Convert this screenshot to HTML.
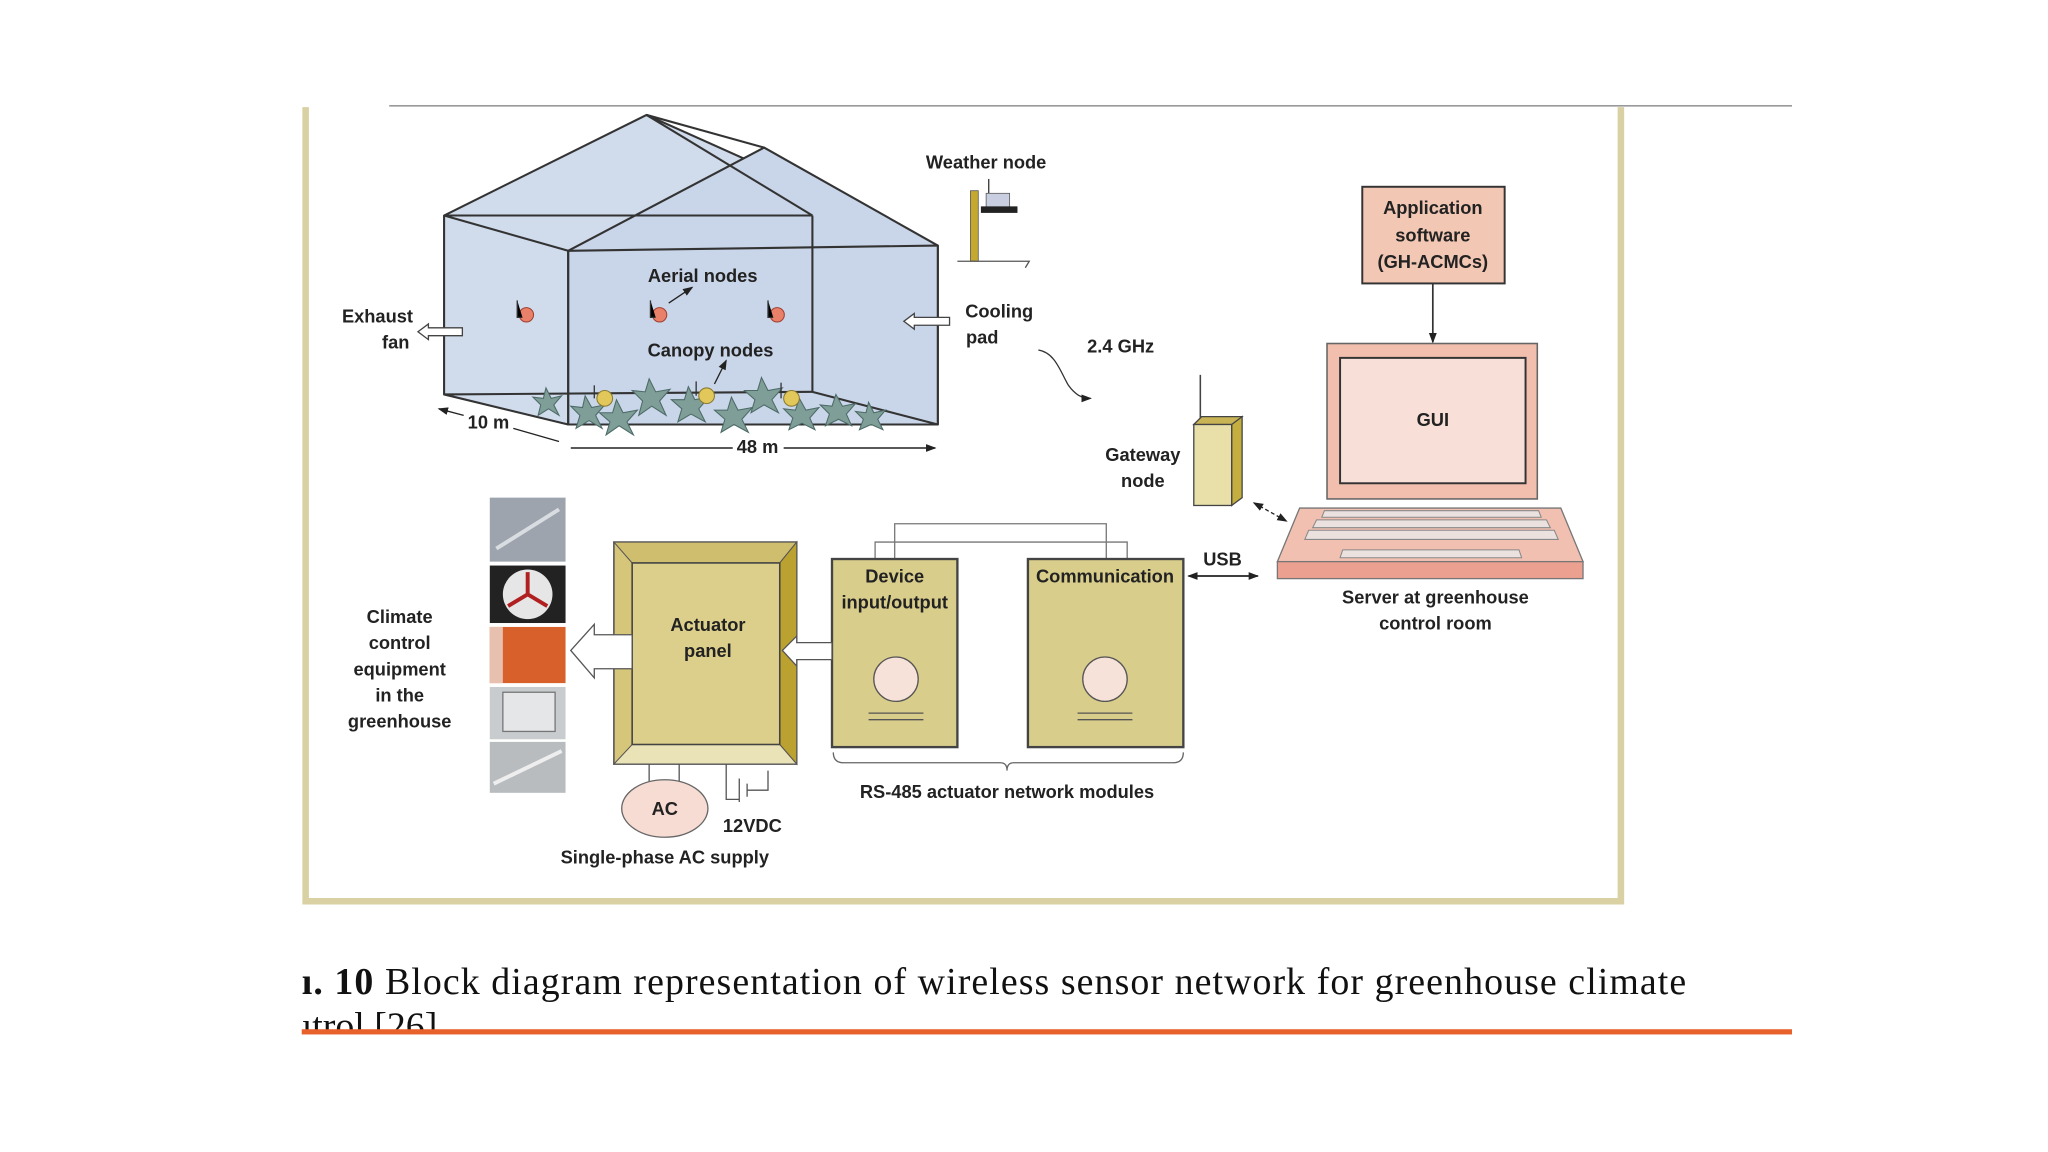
<!DOCTYPE html>
<html><head><meta charset="utf-8"><style>
html,body{margin:0;padding:0;background:#fff;}
svg{display:block;}
.t{font-family:"Liberation Sans",sans-serif;font-weight:bold;font-size:14px;fill:#222;text-anchor:middle;}
</style></head><body>
<svg width="2048" height="1152" viewBox="0 0 1568 882" xmlns="http://www.w3.org/2000/svg">
<defs>
<marker id="ah" markerWidth="8" markerHeight="8" refX="7" refY="4" orient="auto" markerUnits="userSpaceOnUse"><path d="M0,1 L8,4 L0,7 z" fill="#222"/></marker>
<marker id="as" markerWidth="8" markerHeight="8" refX="1" refY="4" orient="auto" markerUnits="userSpaceOnUse"><path d="M8,1 L0,4 L8,7 z" fill="#222"/></marker>
</defs>
<rect width="1568" height="882" fill="#fff"/>
<line x1="298" y1="81" x2="1372" y2="81" stroke="#999" stroke-width="1.2"/>
<path d="M234,82 V690 H1241 V82" fill="none" stroke="#d9d0a3" stroke-width="5"/>

<!-- greenhouse -->
<g stroke="#333" stroke-width="1.6" fill="#d0dbeb" stroke-linejoin="round">
<polygon points="340,165 495,88 718,188 718,325 435,325 340,302" />
<polygon points="435,192 585,113 718,188 718,325 435,325" fill="#c9d5e8"/>
<line x1="495" y1="88" x2="585" y2="113"/>
<line x1="340" y1="165" x2="435" y2="192"/>
<line x1="495" y1="88" x2="622" y2="165"/>
<line x1="340" y1="165" x2="622" y2="165"/>
<line x1="622" y1="165" x2="622" y2="300"/>
<line x1="435" y1="192" x2="718" y2="188"/>
<line x1="435" y1="192" x2="435" y2="325"/>
<line x1="340" y1="302" x2="622" y2="300"/>
<line x1="622" y1="300" x2="718" y2="325"/>
</g>
<!-- plants -->
<g fill="#7f9e98" stroke="#4c6a66" stroke-width="0.8">
<polygon points="418,297 422,305 430,303 424,310 428,318 420,313 412,318 414,310 408,304 416,305"/>
<polygon points="448,303 453,312 463,310 456,318 461,328 451,322 441,328 444,318 437,311 446,312"/>
<polygon points="497,290 502,300 513,298 505,307 510,318 499,311 489,318 492,307 484,299 494,300"/>
<polygon points="472,306 477,316 488,314 480,323 485,333 474,326 464,333 467,323 459,316 469,316"/>
<polygon points="527,296 532,306 543,304 535,313 540,323 529,317 519,323 522,313 514,306 524,306"/>
<polygon points="560,304 565,314 576,312 568,321 573,331 562,325 552,331 555,321 547,314 557,314"/>
<polygon points="583,289 588,299 599,297 591,306 596,316 585,310 575,316 578,306 570,299 580,299"/>
<polygon points="612,305 617,314 627,312 620,320 624,329 614,324 604,329 607,320 600,313 609,314"/>
<polygon points="640,302 645,311 655,309 648,317 652,326 642,321 632,326 635,317 628,310 637,311"/>
<polygon points="665,308 669,316 678,314 672,321 676,329 667,325 658,329 661,321 655,315 663,316"/>
</g>
<g fill="#e2c85a" stroke="#8a7a30" stroke-width="0.8">
<circle cx="463" cy="305" r="6"/><circle cx="541" cy="303" r="6"/><circle cx="606" cy="305" r="6"/>
</g>
<g stroke="#333" stroke-width="1"><line x1="455" y1="295" x2="455" y2="305"/><line x1="533" y1="292" x2="533" y2="303"/><line x1="598" y1="293" x2="598" y2="305"/></g>
<g fill="#e8806a" stroke="#a04030" stroke-width="0.8">
<circle cx="403" cy="241" r="5.5"/><circle cx="505" cy="241" r="5.5"/><circle cx="595" cy="241" r="5.5"/>
</g>
<g stroke="#333" stroke-width="1"><path d="M396,230 V243 H400"/><path d="M498,230 V243 H502"/><path d="M588,230 V243 H592"/></g>
<text class="t" x="538" y="216">Aerial nodes</text>
<line x1="512" y1="232" x2="530" y2="220" stroke="#222" stroke-width="1" marker-end="url(#ah)"/>
<text class="t" x="544" y="273">Canopy nodes</text>
<line x1="547" y1="294" x2="556" y2="276" stroke="#222" stroke-width="1" marker-end="url(#ah)"/>
<text class="t" x="289" y="247">Exhaust</text><text class="t" x="303" y="267">fan</text>
<path d="M320,254 L328,248 V251 H354 V257 H328 V260 Z" fill="#fff" stroke="#444" stroke-width="1"/>
<text class="t" x="765" y="243">Cooling</text><text class="t" x="752" y="263">pad</text>
<path d="M692,246 L700,240 V243 H727 V249 H700 V252 Z" fill="#fff" stroke="#444" stroke-width="1"/>
<text class="t" x="374" y="328">10 m</text>
<line x1="355" y1="318" x2="336" y2="313" stroke="#222" stroke-width="1" marker-end="url(#ah)"/>
<line x1="393" y1="328" x2="428" y2="338" stroke="#222" stroke-width="1"/>
<text class="t" x="580" y="347">48 m</text>
<line x1="437" y1="343" x2="561" y2="343" stroke="#222" stroke-width="1.2"/>
<line x1="600" y1="343" x2="716" y2="343" stroke="#222" stroke-width="1.2" marker-end="url(#ah)"/>

<!-- weather node -->
<text class="t" x="755" y="129">Weather node</text>
<rect x="743" y="146" width="6" height="54" fill="#c4a830" stroke="#555" stroke-width="0.6"/>
<line x1="757" y1="137" x2="757" y2="150" stroke="#333"/>
<rect x="755" y="148" width="18" height="11" fill="#c9cfe0" stroke="#555" stroke-width="0.6"/>
<rect x="751" y="158" width="28" height="5" fill="#222"/>
<path d="M733,200 H788 L785,205" fill="none" stroke="#555" stroke-width="1"/>

<text class="t" x="858" y="270">2.4 GHz</text>
<path d="M795,268 C808,270 812,285 818,295 C823,302 828,305 835,305" fill="none" stroke="#333" stroke-width="1" marker-end="url(#ah)"/>

<!-- gateway -->
<line x1="919" y1="287" x2="919" y2="322" stroke="#444" stroke-width="1.2"/>
<polygon points="914,325 920,319 951,319 945,325" fill="#c9b455" stroke="#444" stroke-width="1"/>
<polygon points="943,325 951,319 951,381 943,387" fill="#c4ae40" stroke="#444" stroke-width="1"/>
<rect x="914" y="325" width="29" height="62" fill="#e8e0a8" stroke="#444" stroke-width="1"/>
<text class="t" x="875" y="353">Gateway</text><text class="t" x="875" y="373">node</text>
<line x1="960" y1="385" x2="985" y2="399" stroke="#222" stroke-width="1" stroke-dasharray="3,2" marker-start="url(#as)" marker-end="url(#ah)"/>

<!-- server -->
<rect x="1043" y="143" width="109" height="74" fill="#f2c7b4" stroke="#333" stroke-width="1.5"/>
<text class="t" x="1097" y="164">Application</text><text class="t" x="1097" y="185">software</text><text class="t" x="1097" y="205">(GH-ACMCs)</text>
<line x1="1097" y1="217" x2="1097" y2="262" stroke="#333" stroke-width="1.3" marker-end="url(#ah)"/>
<rect x="1016" y="263" width="161" height="119" fill="#f2bfae" stroke="#666" stroke-width="1.2"/>
<rect x="1026" y="274" width="142" height="96" fill="#f8e0d8" stroke="#333" stroke-width="1.5"/>
<text class="t" x="1097" y="326">GUI</text>
<polygon points="995,389 1195,389 1212,430 978,430" fill="#f2c0b0" stroke="#777" stroke-width="1"/>
<rect x="978" y="430" width="234" height="13" fill="#eca090" stroke="#777" stroke-width="1"/>
<g fill="#ebe2e0" stroke="#888" stroke-width="0.8">
<polygon points="1014,391 1178,391 1180,396 1012,396"/>
<polygon points="1008,398 1184,398 1187,404 1005,404"/>
<polygon points="1002,406 1190,406 1193,413 999,413"/>
<polygon points="1028,421 1163,421 1165,427 1026,427"/>
</g>
<text class="t" x="1099" y="462">Server at greenhouse</text><text class="t" x="1099" y="482">control room</text>
<text class="t" x="936" y="433">USB</text>
<line x1="910" y1="441" x2="963" y2="441" stroke="#222" stroke-width="1.3" marker-start="url(#as)" marker-end="url(#ah)"/>

<!-- modules -->
<path d="M685,428 V401 H847 V428 M670,428 V415 H863 V428" fill="none" stroke="#777" stroke-width="1"/>
<rect x="637" y="428" width="96" height="144" fill="#d9cd8b" stroke="#444" stroke-width="1.8"/>
<rect x="787" y="428" width="119" height="144" fill="#d9cd8b" stroke="#444" stroke-width="1.8"/>
<text class="t" x="685" y="446">Device</text><text class="t" x="685" y="466">input/output</text>
<text class="t" x="846" y="446">Communication</text>
<circle cx="686" cy="520" r="17" fill="#f6e2d8" stroke="#555" stroke-width="1"/>
<circle cx="846" cy="520" r="17" fill="#f6e2d8" stroke="#555" stroke-width="1"/>
<g stroke="#555" stroke-width="1"><line x1="665" y1="546" x2="707" y2="546"/><line x1="665" y1="551" x2="707" y2="551"/><line x1="825" y1="546" x2="867" y2="546"/><line x1="825" y1="551" x2="867" y2="551"/></g>
<path d="M638,576 Q638,584 646,584 H766 Q771,584 771,590 Q771,584 776,584 H898 Q906,584 906,576" fill="none" stroke="#666" stroke-width="1"/>
<text class="t" x="771" y="611">RS-485 actuator network modules</text>

<!-- actuator panel -->
<rect x="470" y="415" width="140" height="170" fill="#d6c67a" stroke="#555" stroke-width="1.2"/>
<polygon points="470,415 610,415 597,431 484,431" fill="#cfbe6e" stroke="#555" stroke-width="0.8"/>
<polygon points="610,415 610,585 597,570 597,431" fill="#bba230" stroke="#555" stroke-width="0.8"/>
<polygon points="470,585 610,585 597,570 484,570" fill="#ebe3b8" stroke="#555" stroke-width="0.8"/>
<rect x="484" y="431" width="113" height="139" fill="#dccf8c" stroke="#444" stroke-width="1.2"/>
<text class="t" x="542" y="483">Actuator</text><text class="t" x="542" y="503">panel</text>
<path d="M599,498 L610,487 V492 H637 V505 H610 V510 Z" fill="#fff" stroke="#555" stroke-width="1"/>
<path d="M437,498 L455,478 V486 H484 V512 H455 V519 Z" fill="#fff" stroke="#555" stroke-width="1"/>
<!-- photos -->
<rect x="375" y="381" width="58" height="49" fill="#9ea4ad"/>
<line x1="380" y1="420" x2="428" y2="390" stroke="#d8dde2" stroke-width="3"/>
<rect x="375" y="433" width="58" height="44" fill="#222"/>
<circle cx="404" cy="455" r="19" fill="#e6e6e6"/>
<path d="M404,455 L404,438 M404,455 L389,464 M404,455 L419,464" stroke="#b02020" stroke-width="3"/>
<rect x="375" y="480" width="58" height="43" fill="#d8602a"/>
<rect x="375" y="480" width="10" height="43" fill="#e8c0b0"/>
<rect x="375" y="526" width="58" height="40" fill="#c8ccce"/>
<rect x="385" y="530" width="40" height="30" fill="#e4e6e8" stroke="#777" stroke-width="1"/>
<rect x="375" y="568" width="58" height="39" fill="#b8bcbf"/>
<line x1="378" y1="600" x2="430" y2="575" stroke="#eee" stroke-width="3"/>
<text class="t" x="306" y="477">Climate</text><text class="t" x="306" y="497">control</text><text class="t" x="306" y="517">equipment</text><text class="t" x="306" y="537">in the</text><text class="t" x="306" y="557">greenhouse</text>
<!-- power -->
<path d="M497,585 V600 M520,585 V600 M556,585 V612 H566 M566,596 V614 M572,600 V610 M572,605 H588 V590" fill="none" stroke="#555" stroke-width="1"/>
<ellipse cx="509" cy="619" rx="33" ry="22" fill="#f6dcd2" stroke="#666" stroke-width="1"/>
<text class="t" x="509" y="624">AC</text>
<text class="t" x="576" y="637">12VDC</text>
<text class="t" x="509" y="661">Single-phase AC supply</text>

<!-- caption -->
<text x="231" y="761" font-family="'Liberation Serif',serif" font-size="29" fill="#111" textLength="1060" lengthAdjust="spacing"><tspan font-weight="bold">ı. 10</tspan> Block diagram representation of wireless sensor network for greenhouse climate</text>
<text x="231" y="795" font-family="'Liberation Serif',serif" font-size="29" fill="#111">ıtrol [26]</text>
<rect x="231" y="789" width="1141" height="10" fill="#fff"/>
<rect x="231" y="788" width="1141" height="4" fill="#e8602a"/>
</svg>
</body></html>
